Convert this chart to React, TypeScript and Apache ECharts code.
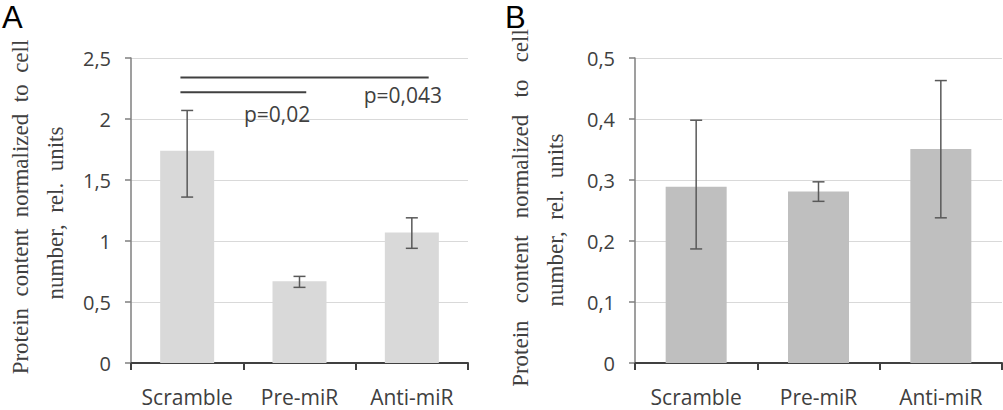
import React, { useEffect, useRef } from "react";
import * as echarts from "echarts";

const categories = ["Scramble", "Pre-miR", "Anti-miR"];

const valuesA = [1.74, 0.67, 1.07];
const errLowA = [1.36, 0.62, 0.94];
const errHighA = [2.07, 0.71, 1.19];

const valuesB = [0.289, 0.281, 0.351];
const errLowB = [0.187, 0.265, 0.238];
const errHighB = [0.398, 0.297, 0.463];

const yTicksA = ["0", "0,5", "1", "1,5", "2", "2,5"];
const yTicksB = ["0", "0,1", "0,2", "0,3", "0,4", "0,5"];

// significance brackets in panel A: start / end (category units), level (value)
const sigStart = [-0.06, -0.06];
const sigEnd = [2.15, 1.06];
const sigLevel = [2.34, 2.22];
const pLabels = ["p=0,043", "p=0,02"];
const pLabelPos = [1.92, 0.8];
const pLabelLevel = [2.2, 2.04];

const yTitle1A = "Protein  content  normalized  to  cell";
const yTitle1B = "Protein   content   normalized   to   cell";
const yTitle2 = "number,  rel.  units";

const TEXT = "#404040";
const SANS = "'Open Sans', 'Liberation Sans', sans-serif";
const SERIF = "'Liberation Serif', 'DejaVu Serif', serif";

function errorBarRender(params: any, api: any) {
  const x = api.value(0);
  const lo = api.coord([x, api.value(1)]);
  const hi = api.coord([x, api.value(2)]);
  const cap = 6;
  const style = { stroke: "#595959", lineWidth: 1.5 };
  return {
    type: "group",
    children: [
      { type: "line", shape: { x1: lo[0], y1: lo[1], x2: hi[0], y2: hi[1] }, style },
      { type: "line", shape: { x1: hi[0] - cap, y1: hi[1], x2: hi[0] + cap, y2: hi[1] }, style },
      { type: "line", shape: { x1: lo[0] - cap, y1: lo[1], x2: lo[0] + cap, y2: lo[1] }, style },
    ],
  };
}

function sigRender(params: any, api: any) {
  const band = api.size([1, 0])[0];
  const level = api.value(2);
  const base = api.coord([0, level]);
  const x1 = base[0] + api.value(0) * band;
  const x2 = base[0] + api.value(1) * band;
  const idx = params.dataIndex;
  const lp = api.coord([0, pLabelLevel[idx]]);
  return {
    type: "group",
    children: [
      {
        type: "line",
        shape: { x1, y1: base[1], x2, y2: base[1] },
        style: { stroke: "#404040", lineWidth: 2 },
      },
      {
        type: "text",
        x: lp[0] + pLabelPos[idx] * band,
        y: lp[1],
        style: {
          text: pLabels[idx],
          fill: TEXT,
          font: `21px ${SANS}`,
          align: "center",
          verticalAlign: "middle",
        },
      },
    ],
  };
}

function makeX(gridIndex: number) {
  return {
    type: "category",
    gridIndex,
    data: categories,
    axisLine: { show: true, lineStyle: { color: "#404040", width: 2 } },
    axisTick: { show: true, length: 7, lineStyle: { color: "#404040", width: 2 } },
    axisLabel: { color: TEXT, fontFamily: SANS, fontSize: 21, margin: 23, interval: 0 },
    splitLine: { show: false },
  };
}

function makeY(gridIndex: number, max: number, interval: number, ticks: string[]) {
  return {
    type: "value",
    gridIndex,
    min: 0,
    max,
    interval,
    axisLine: { show: true, lineStyle: { color: "#7f7f7f", width: 1.5 } },
    axisTick: { show: true, length: 6, lineStyle: { color: "#7f7f7f", width: 1.5 } },
    axisLabel: {
      color: TEXT,
      fontFamily: SANS,
      fontSize: 20,
      margin: 20,
      formatter: (_v: number, i: number) => ticks[i],
    },
    splitLine: { show: true, lineStyle: { color: "#d9d9d9", width: 1 } },
  };
}

function rotatedText(text: string, x: number, y: number) {
  return {
    type: "text",
    x,
    y,
    rotation: Math.PI / 2,
    style: {
      text,
      fill: TEXT,
      font: `23px ${SERIF}`,
      align: "center",
      verticalAlign: "middle",
    },
  };
}

export default function App() {
  const ref = useRef<HTMLDivElement>(null);
  useEffect(() => {
    if (!ref.current) return;
    const chart = echarts.init(ref.current, undefined, { renderer: "svg" });
    chart.setOption({
      animation: false,
      backgroundColor: "#ffffff",
      grid: [
        { left: 131, right: 535, top: 58, bottom: 47 },
        { left: 635, right: 1, top: 58, bottom: 47 },
      ],
      xAxis: [makeX(0), makeX(1)],
      yAxis: [makeY(0, 2.5, 0.5, yTicksA), makeY(1, 0.5, 0.1, yTicksB)],
      series: [
        {
          type: "bar",
          xAxisIndex: 0,
          yAxisIndex: 0,
          data: valuesA,
          barWidth: 54,
          itemStyle: { color: "#d9d9d9" },
        },
        {
          type: "bar",
          xAxisIndex: 1,
          yAxisIndex: 1,
          data: valuesB,
          barWidth: 61,
          itemStyle: { color: "#bfbfbf" },
        },
        {
          type: "custom",
          xAxisIndex: 0,
          yAxisIndex: 0,
          renderItem: errorBarRender,
          data: categories.map((_, i) => [i, errLowA[i], errHighA[i]]),
          z: 5,
        },
        {
          type: "custom",
          xAxisIndex: 1,
          yAxisIndex: 1,
          renderItem: errorBarRender,
          data: categories.map((_, i) => [i, errLowB[i], errHighB[i]]),
          z: 5,
        },
        {
          type: "custom",
          xAxisIndex: 0,
          yAxisIndex: 0,
          renderItem: sigRender,
          data: sigLevel.map((lv, i) => [sigStart[i], sigEnd[i], lv]),
          encode: { x: -1, y: 2 },
          clip: false,
          z: 6,
        },
      ],
      graphic: [
        {
          type: "text",
          x: 2,
          y: 2,
          style: { text: "A", fill: "#000", font: `31px 'Liberation Sans', Arial, sans-serif`, verticalAlign: "top" },
        },
        {
          type: "text",
          x: 505,
          y: 2,
          style: { text: "B", fill: "#000", font: `31px 'Liberation Sans', Arial, sans-serif`, verticalAlign: "top" },
        },
        rotatedText(yTitle1A, 20, 207),
        rotatedText(yTitle2, 55, 213),
        rotatedText(yTitle1B, 520, 208),
        rotatedText(yTitle2, 555, 220),
      ],
    });
    return () => chart.dispose();
  }, []);
  return (
    <div
      ref={ref}
      style={{ position: "fixed", left: 0, top: 0, width: 1003, height: 410, background: "#fff" }}
    />
  );
}
